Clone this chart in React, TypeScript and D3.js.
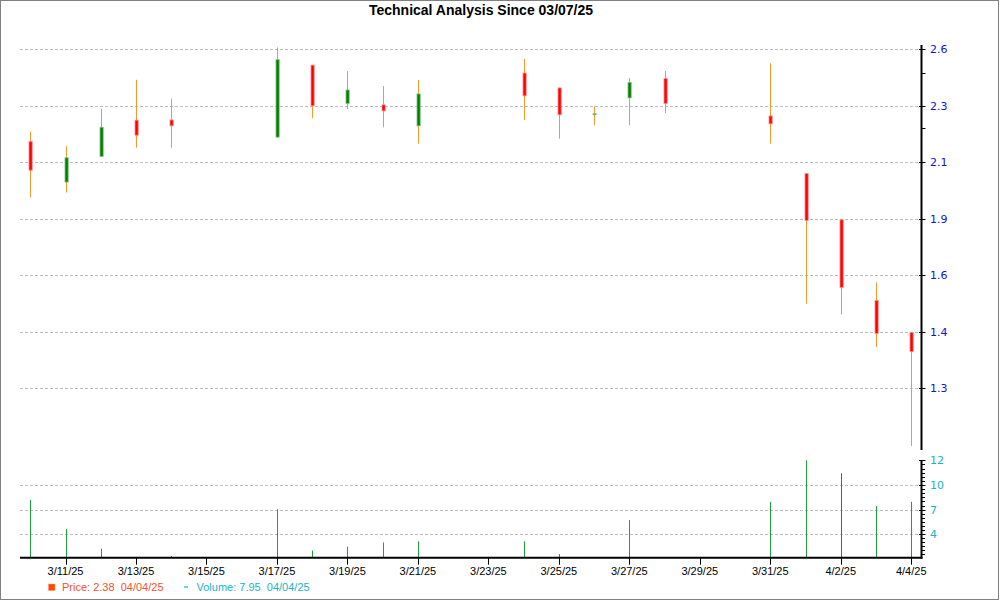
import { useEffect, useRef } from "react";
import * as d3 from "d3";

const dates = [
  "2025-03-10", "2025-03-11", "2025-03-12", "2025-03-13", "2025-03-14",
  "2025-03-17", "2025-03-18", "2025-03-19", "2025-03-20", "2025-03-21",
  "2025-03-24", "2025-03-25", "2025-03-26", "2025-03-27", "2025-03-28",
  "2025-03-31", "2025-04-01", "2025-04-02", "2025-04-03", "2025-04-04",
];
const opens = [2.174, 2.03, 2.121, 2.249, 2.25, 2.189, 2.516, 2.312, 2.305, 2.229, 2.474, 2.395, 2.271, 2.342, 2.445, 2.264, 2.06, 1.895, 1.511, 1.399];
const highs = [2.208, 2.157, 2.289, 2.438, 2.338, 2.61, 2.516, 2.484, 2.405, 2.437, 2.549, 2.395, 2.298, 2.447, 2.484, 2.526, 2.06, 1.895, 1.575, 1.399];
const lows = [1.976, 1.993, 2.12, 2.152, 2.152, 2.189, 2.256, 2.288, 2.224, 2.166, 2.249, 2.184, 2.231, 2.231, 2.274, 2.166, 1.5, 1.462, 1.373, 1.198];
const closes = [2.072, 2.116, 2.224, 2.196, 2.229, 2.545, 2.3, 2.384, 2.282, 2.363, 2.353, 2.268, 2.272, 2.424, 2.312, 2.236, 1.891, 1.557, 1.397, 1.365];
const volumes = [8.18, 4.65, 2.24, 1.15, 1.35, 7.05, 2.03, 2.5, 3.01, 3.14, 3.14, 1.6, 1.15, 5.74, 1.15, 7.94, 12, 10.95, 7.41, 7.95];
const volumeDown = [false, false, false, false, false, false, false, false, false, false, false, false, false, false, false, false, false, true, false, false];

const priceTicks = [1.3, 1.4, 1.6, 1.9, 2.1, 2.3, 2.6];
const priceMinorTicks = [2.475, 2.22];
const volumeTicks = [4, 7, 10, 12];
const volumeFloor = 1.15;
const dateTicks = ["3/11/25", "3/13/25", "3/15/25", "3/17/25", "3/19/25", "3/21/25", "3/23/25", "3/25/25", "3/27/25", "3/29/25", "3/31/25", "4/2/25", "4/4/25"];

const title = "Technical Analysis Since 03/07/25";
const legendPrice = "Price: 2.38  04/04/25";
const legendVolume = "Volume: 7.95  04/04/25";

const Chart = () => {
  const svgRef = useRef<SVGSVGElement>(null);

  useEffect(() => {
    if (!svgRef.current) return;
    document.body.style.margin = "0";

    const svg = d3.select(svgRef.current);
    svg.selectAll("*").remove();

    const width = 1000;
    const height = 600;
    const left = 20;
    const axisX = 921.5;
    const priceTop = 45;
    const priceBottom = 450;
    const pTickTop = 49.3;
    const pTickBottom = 388.3;
    const vTickBottom = 534.3;
    const vTickTop = 460.3;
    const font = "'Liberation Sans', Arial, sans-serif";
    const axisFont = "'DejaVu Sans', Verdana, sans-serif";

    const parse = d3.timeParse("%Y-%m-%d");
    const tickParse = d3.timeParse("%m/%d/%y");
    const data = dates.map((d, i) => ({
      date: parse(d)!,
      open: opens[i],
      high: highs[i],
      low: lows[i],
      close: closes[i],
      volume: volumes[i],
      down: volumeDown[i],
    }));

    const first = data[0].date;
    const last = data[data.length - 1].date;
    const x = d3
      .scaleTime()
      .domain([d3.timeHour.offset(first, -7), d3.timeHour.offset(last, 7)])
      .range([left, axisX]);

    // price labels are evenly spaced on the axis
    const pStep = (pTickBottom - pTickTop) / (priceTicks.length - 1);
    const y = d3
      .scaleLinear()
      .domain(priceTicks)
      .range(priceTicks.map((_, i) => pTickBottom - i * pStep));

    const vStep = (vTickBottom - vTickTop) / (volumeTicks.length - 1);
    const yv = d3
      .scaleLinear()
      .domain(volumeTicks)
      .range(volumeTicks.map((_, i) => vTickBottom - i * vStep));
    const base = yv(volumeFloor);

    // border
    svg
      .append("rect")
      .attr("x", 0.5)
      .attr("y", 0.5)
      .attr("width", width - 2)
      .attr("height", height - 1)
      .attr("fill", "white")
      .attr("stroke", "#808080");

    svg
      .append("text")
      .attr("x", 481)
      .attr("y", 15)
      .attr("text-anchor", "middle")
      .attr("font-family", font)
      .attr("font-size", 14)
      .attr("font-weight", "bold")
      .attr("fill", "#000")
      .text(title);

    // grids
    svg
      .selectAll("line.pgrid")
      .data(priceTicks)
      .join("line")
      .attr("class", "pgrid")
      .attr("x1", left)
      .attr("x2", axisX)
      .attr("y1", (d) => Math.round(y(d)) + 0.5)
      .attr("y2", (d) => Math.round(y(d)) + 0.5)
      .attr("stroke", "#bdbdbd")
      .attr("stroke-dasharray", "3,2");

    svg
      .selectAll("line.vgrid")
      .data(volumeTicks.slice(0, -1))
      .join("line")
      .attr("class", "vgrid")
      .attr("x1", left)
      .attr("x2", axisX)
      .attr("y1", (d) => Math.round(yv(d)) + 0.5)
      .attr("y2", (d) => Math.round(yv(d)) + 0.5)
      .attr("stroke", "#bdbdbd")
      .attr("stroke-dasharray", "3,2");

    // wicks
    svg
      .selectAll("line.wick")
      .data(data)
      .join("line")
      .attr("class", "wick")
      .attr("x1", (d) => Math.round(x(d.date)) + 0.5)
      .attr("x2", (d) => Math.round(x(d.date)) + 0.5)
      .attr("y1", (d) => y(d.high))
      .attr("y2", (d) => y(d.low))
      .attr("stroke", "#f29a2e")
      .attr("stroke-width", 1);

    // bodies
    svg
      .selectAll("rect.body")
      .data(data)
      .join("rect")
      .attr("class", "body")
      .attr("x", (d) => Math.round(x(d.date)) - 1)
      .attr("y", (d) => y(Math.max(d.open, d.close)))
      .attr("width", 3.2)
      .attr("height", (d) => Math.max(1, Math.abs(y(d.open) - y(d.close))))
      .attr("fill", (d) => (d.close < d.open ? "#ff0000" : "#008000"))
      .attr("stroke", (d) => (d.close < d.open ? "#ff8a8a" : "#7fbf7f"))
      .attr("stroke-width", 0.8);

    // volume bars
    svg
      .selectAll("line.vol")
      .data(data.filter((d) => yv(d.volume) < base - 0.5))
      .join("line")
      .attr("class", "vol")
      .attr("x1", (d) => Math.round(x(d.date)) + 0.5)
      .attr("x2", (d) => Math.round(x(d.date)) + 0.5)
      .attr("y1", base)
      .attr("y2", (d) => yv(d.volume))
      .attr("stroke", (d) => (d.down ? "#e8231c" : "#1fa03a"))
      .attr("stroke-width", 1);

    // price axis
    svg
      .append("line")
      .attr("x1", axisX)
      .attr("x2", axisX)
      .attr("y1", priceTop)
      .attr("y2", priceBottom)
      .attr("stroke", "#000")
      .attr("stroke-width", 2);
    svg
      .selectAll("line.ptick")
      .data(priceTicks)
      .join("line")
      .attr("class", "ptick")
      .attr("x1", axisX - 2.5)
      .attr("x2", axisX + 4)
      .attr("y1", (d) => Math.round(y(d)) + 0.5)
      .attr("y2", (d) => Math.round(y(d)) + 0.5)
      .attr("stroke", "#000");
    svg
      .selectAll("line.pminor")
      .data(priceMinorTicks)
      .join("line")
      .attr("class", "pminor")
      .attr("x1", axisX)
      .attr("x2", axisX + 4)
      .attr("y1", (d) => Math.round(y(d)) + 0.5)
      .attr("y2", (d) => Math.round(y(d)) + 0.5)
      .attr("stroke", "#000");
    svg
      .selectAll("text.plabel")
      .data(priceTicks)
      .join("text")
      .attr("class", "plabel")
      .attr("x", 930)
      .attr("y", (d) => y(d))
      .attr("dy", "0.36em")
      .attr("font-family", axisFont)
      .attr("font-size", 11)
      .attr("fill", "#1414c8")
      .text((d) => d3.format(".1f")(d));

    // volume axis
    svg
      .append("line")
      .attr("x1", axisX)
      .attr("x2", axisX)
      .attr("y1", vTickTop)
      .attr("y2", base + 1)
      .attr("stroke", "#000")
      .attr("stroke-width", 2);
    const vMinor: number[] = [];
    for (let i = 0; i < volumeTicks.length - 1; i++) {
      const interp = d3.interpolateNumber(volumeTicks[i], volumeTicks[i + 1]);
      for (let k = 1; k < 6; k++) vMinor.push(interp(k / 6));
    }
    const lowInterp = d3.interpolateNumber(volumeFloor, volumeTicks[0]);
    for (let k = 1; k < 6; k++) vMinor.push(lowInterp(k / 6));
    svg
      .selectAll("line.vminor")
      .data(vMinor)
      .join("line")
      .attr("class", "vminor")
      .attr("x1", axisX)
      .attr("x2", axisX + 3.5)
      .attr("y1", (d) => Math.round(yv(d)) + 0.5)
      .attr("y2", (d) => Math.round(yv(d)) + 0.5)
      .attr("stroke", "#000");
    svg
      .selectAll("line.vtick")
      .data(volumeTicks)
      .join("line")
      .attr("class", "vtick")
      .attr("x1", axisX - 2.5)
      .attr("x2", axisX + 4)
      .attr("y1", (d) => Math.round(yv(d)) + 0.5)
      .attr("y2", (d) => Math.round(yv(d)) + 0.5)
      .attr("stroke", "#000");
    svg
      .selectAll("text.vlabel")
      .data(volumeTicks)
      .join("text")
      .attr("class", "vlabel")
      .attr("x", 930)
      .attr("y", (d) => yv(d))
      .attr("dy", "0.36em")
      .attr("font-family", axisFont)
      .attr("font-size", 11)
      .attr("fill", "#1ab4c4")
      .text((d) => d);

    // date axis
    svg
      .append("line")
      .attr("x1", left)
      .attr("x2", axisX + 1)
      .attr("y1", base)
      .attr("y2", base)
      .attr("stroke", "#000")
      .attr("stroke-width", 2);
    const tickDates = dateTicks.map((t) => ({ label: t, date: tickParse(t)! }));
    svg
      .selectAll("line.xtick")
      .data(tickDates)
      .join("line")
      .attr("class", "xtick")
      .attr("x1", (d) => Math.round(x(d.date)) + 0.5)
      .attr("x2", (d) => Math.round(x(d.date)) + 0.5)
      .attr("y1", base)
      .attr("y2", base + 7)
      .attr("stroke", "#000");
    svg
      .selectAll("text.xlabel")
      .data(tickDates)
      .join("text")
      .attr("class", "xlabel")
      .attr("x", (d) => x(d.date))
      .attr("y", 575)
      .attr("text-anchor", "middle")
      .attr("font-family", font)
      .attr("font-size", 11)
      .attr("fill", "#000")
      .text((d) => d.label);

    // legend
    svg
      .append("rect")
      .attr("x", 48.5)
      .attr("y", 584)
      .attr("width", 6.5)
      .attr("height", 6.5)
      .attr("fill", "#ff4500")
      .attr("stroke", "#ff9a70")
      .attr("stroke-width", 0.6);
    svg
      .append("text")
      .attr("x", 62)
      .attr("y", 591)
      .attr("font-family", font)
      .attr("font-size", 11)
      .attr("fill", "#f5502f")
      .style("white-space", "pre")
      .text(legendPrice);
    svg
      .append("line")
      .attr("x1", 184)
      .attr("x2", 188)
      .attr("y1", 587)
      .attr("y2", 587)
      .attr("stroke", "#1ab4c4")
      .attr("stroke-width", 1.2);
    svg
      .append("text")
      .attr("x", 196.5)
      .attr("y", 591)
      .attr("font-family", font)
      .attr("font-size", 11)
      .attr("fill", "#1ab4c4")
      .style("white-space", "pre")
      .text(legendVolume);
  }, []);

  return <svg ref={svgRef} width={1000} height={600} style={{ display: "block" }} />;
};

export default function App() {
  return <Chart />;
}
